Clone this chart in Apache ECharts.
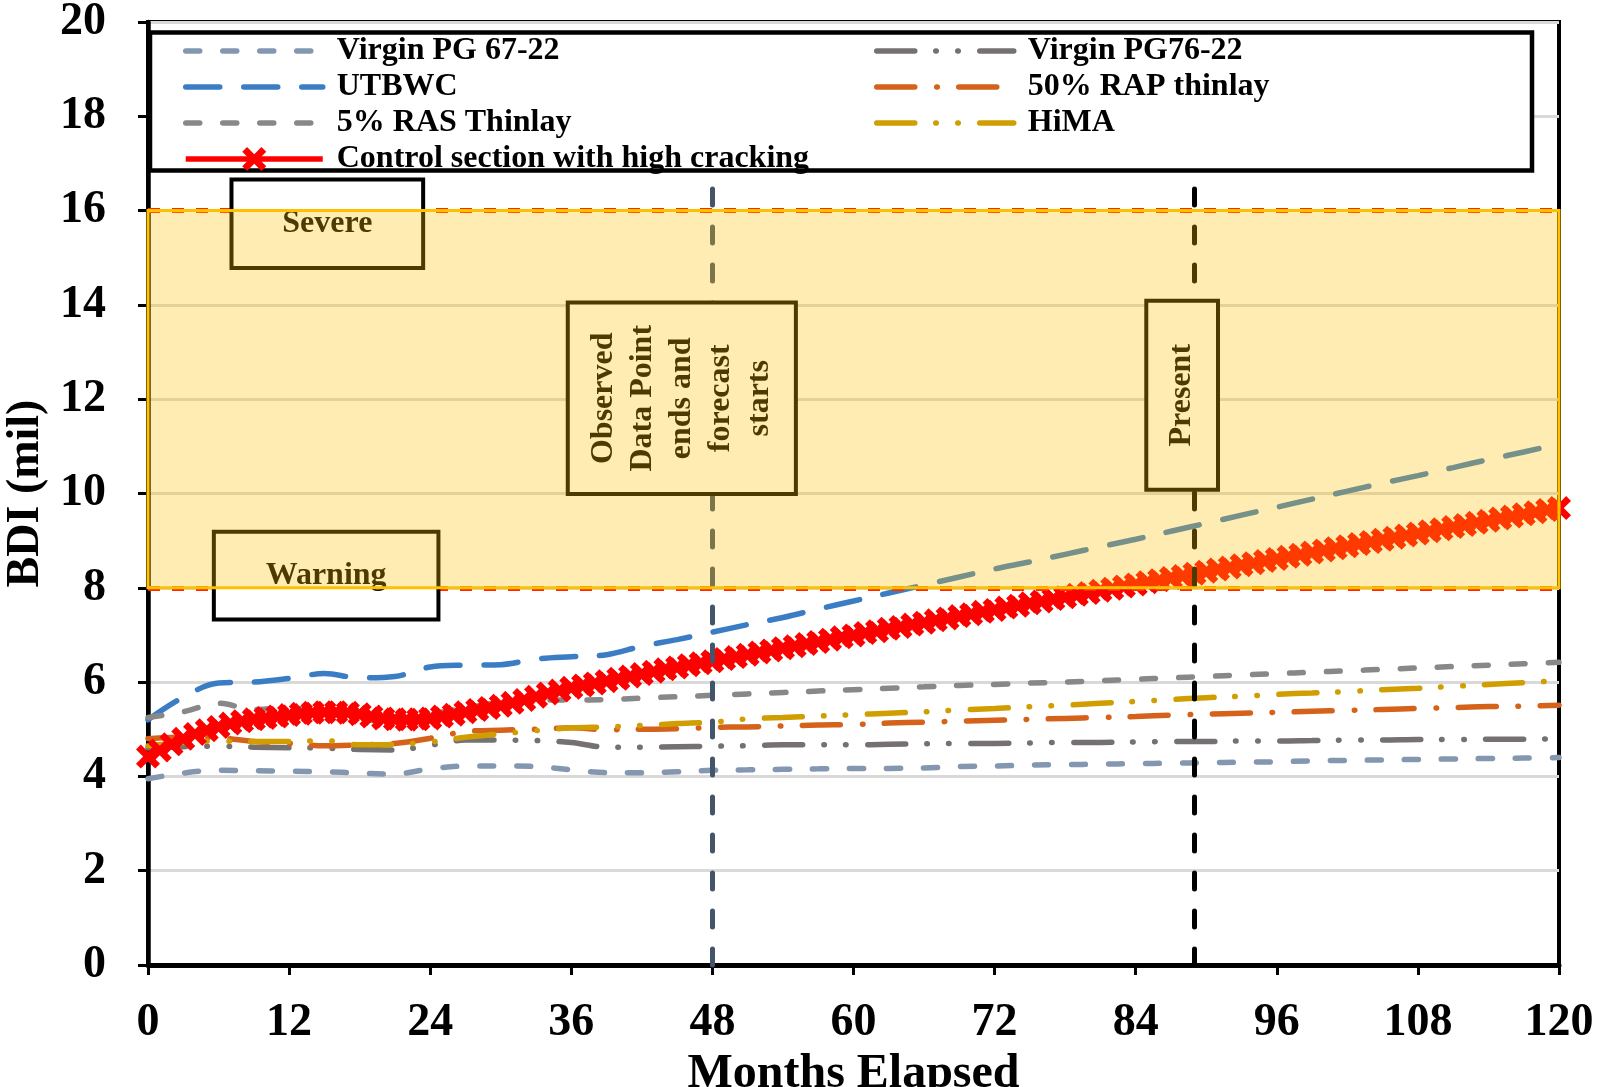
<!DOCTYPE html>
<html><head><meta charset="utf-8">
<script src="https://cdn.jsdelivr.net/npm/echarts@6/dist/echarts.min.js"></script>
<style>html,body{margin:0;padding:0;background:#fff}#c{width:1597px;height:1087px}</style>
</head><body><div id="c"></div>
<script>
// ---- data ----
const months = [0,3,6,9,12,15,18,21,24,27,30,33,36,39,42,45,48,51,54,57,60,63,66,69,72,75,78,81,84,87,90,93,96,99,102,105,108,111,114,117,120];
const virgin6722 = [3.95,4.07,4.13,4.12,4.11,4.10,4.07,4.05,4.16,4.22,4.22,4.21,4.14,4.08,4.08,4.10,4.13,4.14,4.15,4.16,4.17,4.17,4.18,4.21,4.22,4.24,4.25,4.26,4.27,4.28,4.29,4.30,4.31,4.33,4.34,4.35,4.36,4.37,4.38,4.39,4.40];
const virgin7622 = [4.60,4.63,4.64,4.62,4.61,4.60,4.57,4.56,4.66,4.77,4.77,4.76,4.72,4.62,4.62,4.63,4.64,4.65,4.67,4.67,4.67,4.68,4.69,4.70,4.70,4.71,4.72,4.72,4.73,4.74,4.74,4.75,4.75,4.76,4.77,4.77,4.78,4.78,4.79,4.79,4.80];
const utbwc = [5.20,5.68,5.98,6.00,6.08,6.18,6.09,6.12,6.32,6.36,6.37,6.49,6.54,6.58,6.76,6.90,7.06,7.22,7.37,7.55,7.72,7.89,8.06,8.23,8.40,8.55,8.71,8.87,9.03,9.20,9.37,9.54,9.71,9.88,10.05,10.22,10.38,10.55,10.72,10.88,11.05];
const rap50 = [4.80,4.83,4.82,4.74,4.70,4.65,4.67,4.70,4.81,4.95,4.98,5.00,5.03,4.99,5.00,5.01,5.04,5.05,5.07,5.09,5.10,5.13,5.15,5.17,5.19,5.21,5.23,5.25,5.27,5.30,5.32,5.34,5.36,5.38,5.40,5.42,5.44,5.46,5.48,5.49,5.51];
const ras5 = [5.25,5.37,5.55,5.42,5.45,5.35,5.20,5.18,5.32,5.45,5.57,5.62,5.62,5.63,5.66,5.69,5.72,5.75,5.78,5.81,5.84,5.87,5.90,5.93,5.95,5.98,6.00,6.03,6.06,6.09,6.12,6.15,6.18,6.21,6.24,6.27,6.30,6.33,6.36,6.39,6.42];
const hima = [4.65,4.72,4.75,4.74,4.74,4.76,4.67,4.68,4.73,4.83,4.90,4.97,5.03,5.05,5.08,5.12,5.15,5.22,5.25,5.28,5.31,5.34,5.37,5.41,5.44,5.48,5.51,5.55,5.59,5.63,5.67,5.70,5.74,5.77,5.80,5.84,5.87,5.91,5.95,5.99,6.03];
const controlMonths = [0,1,2,3,4,5,6,7,8,9,10,11,12,13,14,15,16,17,18,19,20,21,22,23,24,25,26,27,28,29,30,31,32,33,34,35,36,37,38,39,40,41,42,43,44,45,46,47,48,49,50,51,52,53,54,55,56,57,58,59,60,61,62,63,64,65,66,67,68,69,70,71,72,73,74,75,76,77,78,79,80,81,82,83,84,85,86,87,88,89,90,91,92,93,94,95,96,97,98,99,100,101,102,103,104,105,106,107,108,109,110,111,112,113,114,115,116,117,118,119,120];
const control = [4.42,4.55,4.68,4.80,4.90,4.98,5.05,5.12,5.17,5.21,5.24,5.27,5.30,5.33,5.35,5.36,5.36,5.35,5.32,5.27,5.23,5.21,5.20,5.21,5.23,5.27,5.31,5.36,5.41,5.45,5.50,5.56,5.62,5.69,5.76,5.82,5.88,5.93,5.97,6.02,6.07,6.12,6.17,6.22,6.27,6.31,6.36,6.40,6.44,6.49,6.53,6.58,6.63,6.67,6.72,6.76,6.81,6.85,6.90,6.95,6.99,7.04,7.08,7.13,7.17,7.22,7.26,7.31,7.35,7.40,7.44,7.49,7.53,7.58,7.62,7.67,7.71,7.76,7.80,7.85,7.89,7.94,7.98,8.03,8.07,8.12,8.16,8.21,8.25,8.30,8.34,8.39,8.43,8.48,8.52,8.57,8.61,8.66,8.70,8.75,8.79,8.84,8.88,8.93,8.97,9.02,9.06,9.11,9.15,9.20,9.24,9.29,9.33,9.38,9.42,9.47,9.51,9.56,9.60,9.65,9.69];
const warningLevel = 8, severeLevel = 16;
const observedEnd = 48, presentMonth = 89;
const yTicks = {min: 0, max: 20, interval: 2};
const xTicks = {min: 0, max: 120, interval: 12};

// ---- chart ----
const FF = '"Liberation Serif","Times New Roman",serif';
const chart = echarts.init(document.getElementById('c'), null, {renderer: 'canvas'});
const pair = (xs, ys) => xs.map((x, i) => [x, ys[i]]);
const LW = 5.5;
const xSym = 'path://M0,4 L4,0 L10,6 L16,0 L20,4 L14,10 L20,16 L16,20 L10,14 L4,20 L0,16 L6,10 Z';

function lineSeries(name, data, color, dash) {
  return {
    name, type: 'line', data, smooth: 0.35, symbol: 'none', z: 2,
    lineStyle: {color, width: LW, type: dash, cap: 'round'},
    itemStyle: {color}
  };
}

const legendText = {fontFamily: FF, fontWeight: 'bold', fontSize: 32, color: '#000', lineHeight: 36, padding: [0, 0, 0, 9]};
const noSym = name => ({name, itemStyle: {opacity: 0}});

chart.setOption({
  animation: false,
  grid: {left: 148, right: 38, top: 22, bottom: 122, show: true, borderColor: '#000', borderWidth: 4, backgroundColor: 'transparent', containLabel: false, outerBoundsMode: 'none'},
  xAxis: {
    type: 'value', min: xTicks.min, max: xTicks.max, interval: xTicks.interval,
    axisLine: {show: true, onZero: false, lineStyle: {color: '#000', width: 5}},
    axisTick: {show: true, length: 10, lineStyle: {color: '#000', width: 3}},
    axisLabel: {margin: 35, fontSize: 46, fontWeight: 'bold', fontFamily: FF, color: '#000', showMinLabel: true, showMaxLabel: true, hideOverlap: false},
    splitLine: {show: false},
    name: 'Months Elapsed', nameLocation: 'middle', nameGap: 70,
    nameTextStyle: {fontSize: 48, fontWeight: 'bold', fontFamily: FF, color: '#000'}
  },
  yAxis: {
    type: 'value', min: yTicks.min, max: yTicks.max, interval: yTicks.interval,
    axisLine: {show: true, onZero: false, lineStyle: {color: '#000', width: 4.5}},
    axisTick: {show: true, length: 10, lineStyle: {color: '#000', width: 3}},
    axisLabel: {margin: 42, fontSize: 46, fontWeight: 'bold', fontFamily: FF, color: '#000', showMinLabel: true, showMaxLabel: true, hideOverlap: false},
    splitLine: {show: true, lineStyle: {color: '#D9D9D9', width: 3}},
    name: 'BDI (mil)', nameLocation: 'middle', nameGap: 96,
    nameTextStyle: {fontSize: 46, fontWeight: 'bold', fontFamily: FF, color: '#000'}
  },
  legend: [
    {orient: 'vertical', left: 183, top: 33, padding: 0, itemGap: 0, itemWidth: 137, itemHeight: 30, z: 11, selectedMode: false,
     lineStyle: {width: LW},
     data: [noSym('Virgin PG 67-22'), noSym('UTBWC'), noSym('5% RAS Thinlay'), {name: 'Control section with high cracking'}], textStyle: legendText},
    {orient: 'vertical', left: 874, top: 33, padding: 0, itemGap: 0, itemWidth: 137, itemHeight: 30, z: 11, selectedMode: false,
     lineStyle: {width: LW},
     data: [noSym('Virgin PG76-22'), noSym('50% RAP thinlay'), noSym('HiMA')], textStyle: legendText}
  ],
  series: [
    {
      name: '_refs', type: 'line', data: [], z: 1, silent: true,
      markLine: {
        silent: true, z: 2.5, symbol: ['none', 'none'], label: {show: false}, animation: false,
        data: [
          {yAxis: severeLevel, lineStyle: {color: '#FF2A00', width: 5, type: [12, 12]}},
          {yAxis: warningLevel, lineStyle: {color: '#FF2A00', width: 5, type: [12, 12]}},
          {xAxis: observedEnd, lineStyle: {color: '#44546A', width: 5, type: [16, 22], cap: 'round'}},
          {xAxis: presentMonth, lineStyle: {color: '#000000', width: 5, type: [16, 22], cap: 'round'}}
        ]
      }
    },
    lineSeries('Virgin PG 67-22', pair(months, virgin6722), '#8497B0', [14, 23]),
    lineSeries('Virgin PG76-22', pair(months, virgin7622), '#767171', [38, 21, 0.5, 21.5, 0.5, 21.5]),
    lineSeries('UTBWC', pair(months, utbwc), '#3A7DC4', [34, 24]),
    lineSeries('50% RAP thinlay', pair(months, rap50), '#D5621A', [38, 22, 0.5, 21.5]),
    lineSeries('5% RAS Thinlay', pair(months, ras5), '#888888', [14, 23]),
    lineSeries('HiMA', pair(months, hima), '#D09E00', [38, 21, 0.5, 21.5, 0.5, 21.5]),
    {
      name: 'Control section with high cracking', type: 'line', data: pair(controlMonths, control), z: 2.2,
      smooth: 0.3, symbol: xSym, symbolSize: 24, showAllSymbol: true,
      lineStyle: {color: '#FF0000', width: 6}, itemStyle: {color: '#FF0000'}
    },
    {
      name: '_band', type: 'line', data: [], z: 5, silent: true,
      markArea: {
        silent: true, z: 5, label: {show: false},
        itemStyle: {color: 'rgba(255,192,0,0.3)', borderColor: '#FFC000', borderWidth: 3},
        data: [[{xAxis: xTicks.min, yAxis: warningLevel}, {xAxis: xTicks.max, yAxis: severeLevel}]]
      }
    }
  ]
});

// annotation boxes placed in data coordinates
const notes = [
  {x0: 7.1, x1: 23.4, y0: 14.78, y1: 16.66, text: 'Severe', rot: false},
  {x0: 5.6, x1: 24.7, y0: 7.33, y1: 9.19, text: 'Warning', rot: false},
  {x0: 35.7, x1: 55.1, y0: 9.99, y1: 14.05, text: 'Observed\nData Point\nends and\nforecast\nstarts', rot: true},
  {x0: 84.9, x1: 91.0, y0: 10.08, y1: 14.09, text: 'Present', rot: true}
];
const g = [];
notes.forEach(n => {
  const a = chart.convertToPixel({gridIndex: 0}, [n.x0, n.y1]);
  const b = chart.convertToPixel({gridIndex: 0}, [n.x1, n.y0]);
  g.push({type: 'rect', z: 3, shape: {x: a[0], y: a[1], width: b[0] - a[0], height: b[1] - a[1]},
          style: {fill: '#fff', stroke: '#000', lineWidth: 4}});
  g.push({type: 'text', z: 3, x: (a[0] + b[0]) / 2, y: (a[1] + b[1]) / 2, rotation: n.rot ? Math.PI / 2 : 0,
          style: {text: n.text, fill: '#000', fontSize: 32, fontWeight: 'bold', fontFamily: FF, align: 'center', verticalAlign: 'middle', lineHeight: 39}});
});
// legend frame
g.push({type: 'rect', z: 10, shape: {x: 150, y: 32.5, width: 1382, height: 138}, style: {fill: '#fff', stroke: '#000', lineWidth: 4.5}});
chart.setOption({graphic: g});
</script></body></html>
